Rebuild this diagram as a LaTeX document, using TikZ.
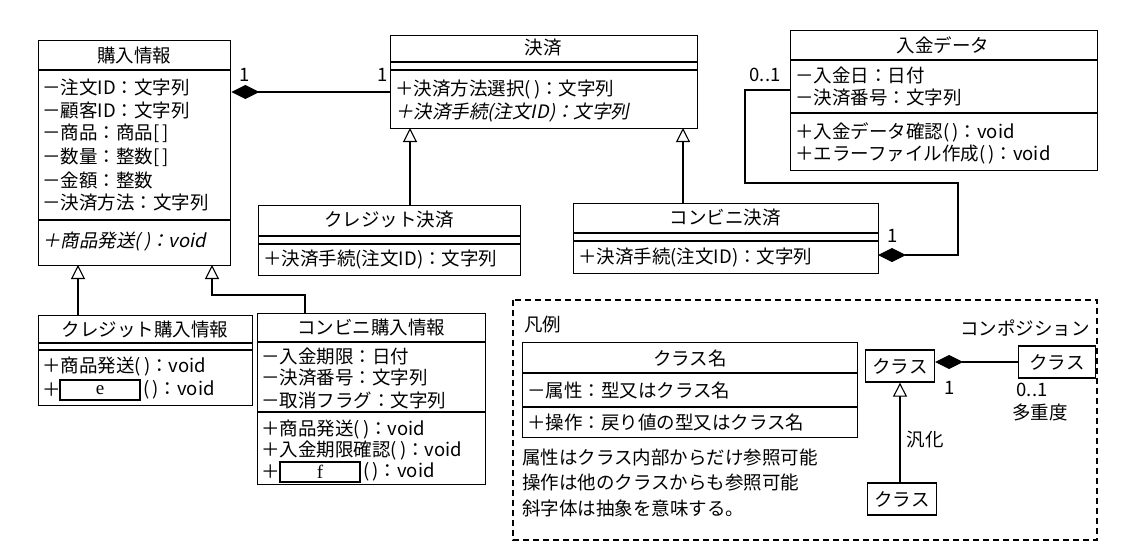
\documentclass[tikz,border=0pt]{standalone}
\usepackage{fontspec}
\setmainfont{Liberation Serif}
\newfontfamily\cjk{Noto Sans CJK JP}
\newfontfamily\cjkit[FakeSlant=0.2]{Noto Sans CJK JP}
\usetikzlibrary{arrows.meta}
\begin{document}
\begin{tikzpicture}[x=1pt,y=-1pt,
  cls/.style={draw,line width=1.3pt,anchor=north west,inner sep=0pt},
  tx/.style={anchor=west,inner sep=0pt,font=\cjk\fontsize{18.5}{21}\selectfont},
  tc/.style={inner sep=0pt,font=\cjk\fontsize{18.5}{21}\selectfont},
  ln/.style={line width=1.1pt},
  comp/.style={ln,{Diamond[length=28pt,width=14pt]}-},
  gen/.style={ln,-{Triangle[open,length=14pt,width=14pt,fill=white]}},
  blank/.style={draw,line width=1.3pt,inner sep=0pt,minimum width=80pt,minimum height=20pt,font=\fontsize{19}{21}\selectfont}]
\useasboundingbox (0,0) rectangle (1130,550);
% boxes
\node[cls,minimum width=192pt,minimum height=225pt] (k) at (38,40) {};
\draw[ln] (38,70)--(230,70) (38,220)--(230,220);
\node[tc] (kt) at (134,55) {購入情報};
\foreach \t/\y in {－注文ID：文字列/87,－顧客ID：文字列/110,－商品：商品[\,]/133,－数量：整数[\,]/157,－金額：整数/180,－決済方法：文字列/203}
  \node[tx] at (42,\y) {\t};
\node[tx,font=\cjkit\fontsize{18.5}{21}\selectfont] (ko) at (42,242) {＋商品発送(\,)：void};

\node[cls,minimum width=307pt,minimum height=93pt] (s) at (390,35) {};
\draw[ln] (390,62)--(697,62) (390,70)--(697,70);
\node[tc] (st) at (543,48) {決済};
\node[tx] (s1) at (395,90) {＋決済方法選択(\,)：文字列};
\node[tx,font=\cjkit\fontsize{18.5}{21}\selectfont] (s2) at (395,113) {＋決済手続(注文ID)：文字列};

\node[cls,minimum width=262pt,minimum height=70pt] (cs) at (258,205) {};
\draw[ln] (258,236)--(520,236) (258,244)--(520,244);
\node[tc] (cst) at (389,220) {クレジット決済};
\node[tx] (cs1) at (263,260) {＋決済手続(注文ID)：文字列};

\node[cls,minimum width=305pt,minimum height=70pt] (ks) at (573,203) {};
\draw[ln] (573,233)--(878,233) (573,241)--(878,241);
\node[tc] (kst) at (725,218) {コンビニ決済};
\node[tx] (ks1) at (578,258) {＋決済手続(注文ID)：文字列};

\node[cls,minimum width=307pt,minimum height=140pt] (n) at (790,30) {};
\draw[ln] (790,60)--(1097,60) (790,113)--(1097,113);
\node[tc] (nt) at (943,45) {入金データ};
\node[tx] at (795,75) {－入金日：日付};
\node[tx] at (795,98) {－決済番号：文字列};
\node[tx] at (795,132) {＋入金データ確認(\,)：void};
\node[tx] at (795,155) {＋エラーファイル作成(\,)：void};

\node[cls,minimum width=214pt,minimum height=90pt] (ck) at (38,315) {};
\draw[ln] (38,343)--(252,343) (38,350)--(252,350);
\node[tc] (ckt) at (145,329) {クレジット購入情報};
\node[tx] at (42,367) {＋商品発送(\,)：void};
\node[tx] (ckp) at (42,390) {＋};
\node[blank] (e) at (100,390) {e};
\node[tx] at (143,390) {(\,)：void};

\node[cls,minimum width=228pt,minimum height=171pt] (kk) at (257,313) {};
\draw[ln] (257,342)--(485,342) (257,412)--(485,412);
\node[tc] (kkt) at (371,327) {コンビニ購入情報};
\node[tx] at (261,356) {－入金期限：日付};
\node[tx] at (261,378) {－決済番号：文字列};
\node[tx] at (261,400) {－取消フラグ：文字列};
\node[tx] at (261,430) {＋商品発送(\,)：void};
\node[tx] at (261,451) {＋入金期限確認(\,)：void};
\node[tx] at (261,472) {＋};
\node[blank] (f) at (320,472) {f};
\node[tx] at (363,472) {(\,)：void};

% connectors
\coordinate (c1) at (390,92);
\draw[comp] (k.east |- c1) -- (c1);
\node[tc] at (245,75) {1};
\node[tc] at (383,75) {1};
\draw[gen] (cs.north -| 410,0) -- (410,128);
\draw[gen] (ks.north -| 683,0) -- (683,128);
\draw[gen] (ck.north -| 78,0) -- (78,265);
\draw[gen] (kk.north -| 305,0) -- (305,295) -- (212,295) -- (212,265);
\coordinate (c2) at (878,255);
\draw[comp] (c2) -- (958,255) -- (958,183) -- (745,183) -- (745,90) -- (n.west |- 0,90);
\node[tc] at (765,75) {0..1};
\node[tc] at (893,236) {1};

% legend
\draw[ln,dashed,dash pattern=on 6pt off 4pt] (513,300) rectangle (1097,540);
\node[tx] (lg) at (524,325) {凡例};
\node[tc] at (1025,328) {コンポジション};
\node[cls,minimum width=335pt,minimum height=95pt] (lc) at (522,342) {};
\draw[ln] (522,373)--(857,373) (522,407)--(857,407);
\node[tc] at (690,358) {クラス名};
\node[tx] at (527,390) {－属性：型又はクラス名};
\node[tx] at (527,422) {＋操作：戻り値の型又はクラス名};
\node[tx] at (522,458) {属性はクラス内部からだけ参照可能};
\node[tx] at (522,483) {操作は他のクラスからも参照可能};
\node[tx] at (522,508) {斜字体は抽象を意味する。};
\node[draw,line width=1.3pt,tc,minimum width=69pt,minimum height=32pt] (a) at (900,366) {クラス};
\node[draw,line width=1.3pt,tc,minimum width=77pt,minimum height=32pt] (b) at (1057,362) {クラス};
\node[draw,line width=1.3pt,tc,minimum width=69pt,minimum height=32pt] (c) at (902,499) {クラス};
\draw[comp] (a.east |- b.west) -- (b.west);
\draw[gen] (c.north -| a.south) -- (a.south);
\node[tc] at (950,388) {1};
\node[tc] at (1032,390) {0..1};
\node[tc] at (1040,412) {多重度};
\node[tc] at (925,440) {汎化};
\end{tikzpicture}
\end{document}
